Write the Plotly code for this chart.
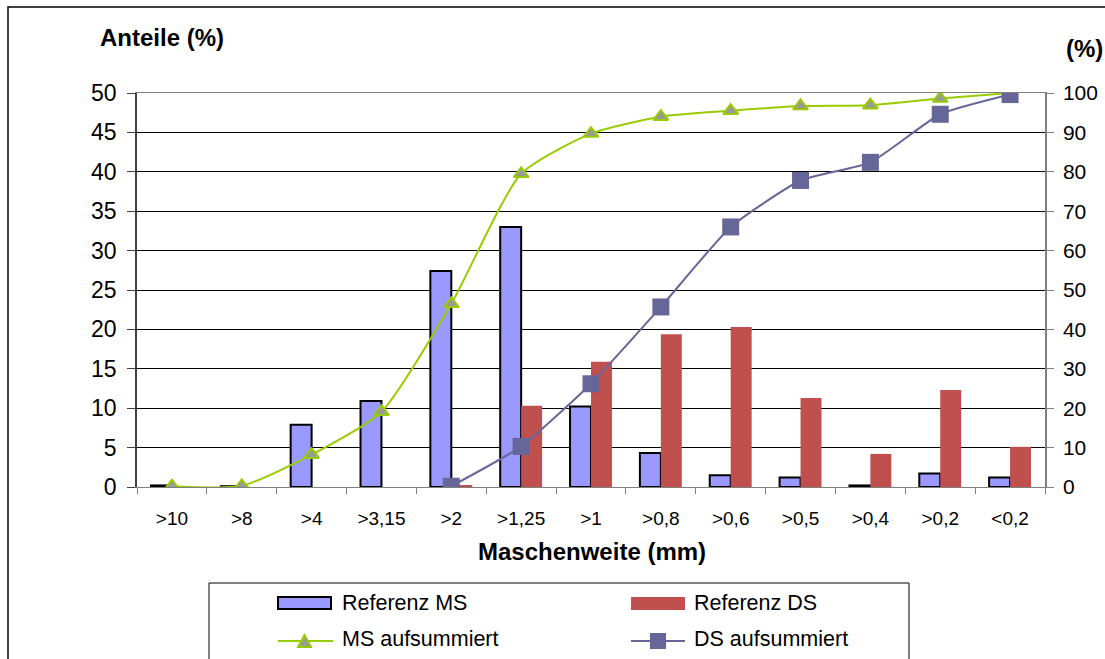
import plotly.graph_objects as go

# Siebanalyse: Anteile je Maschenweite und Summenkurven
categories = [">10", ">8", ">4", ">3,15", ">2", ">1,25", ">1", ">0,8",
              ">0,6", ">0,5", ">0,4", ">0,2", "<0,2"]
ms_share = [0.2, 0.1, 7.9, 10.9, 27.4, 33.0, 10.2, 4.3, 1.5, 1.2, 0.2, 1.7, 1.2]
ds_share = [0, 0, 0, 0, 0.2, 10.3, 15.9, 19.4, 20.3, 11.3, 4.2, 12.3, 5.1]
ms_cum = [0.2, 0.3, 8.2, 19.1, 46.5, 79.5, 89.7, 94.0, 95.5, 96.7, 96.9, 98.6, 100.0]
ds_cum = [None, None, None, None, 0.2, 10.3, 26.2, 45.7, 66.0, 77.8, 82.4, 94.6, 99.6]

left_ticks = list(range(0, 51, 5))
right_ticks = list(range(0, 101, 10))

W, H = 1105, 659
L, R, T, B = 137, 60, 93, 172
PW, PH = W - L - R, H - T - B

FONT = "Liberation Sans, Arial, sans-serif"
MS_BLUE = "#9999FF"
DS_RED = "#C0504D"
MS_GREEN = "#99CC00"
DS_PURPLE = "#666699"


def fx(x):
    return (x - L) / PW


def fy(y):
    return (H - B - y) / PH


fig = go.Figure()
fig.add_trace(go.Bar(x=categories, y=ms_share, name="Referenz MS",
                     marker=dict(color=MS_BLUE, line=dict(color="black", width=2))))
fig.add_trace(go.Bar(x=categories, y=ds_share, name="Referenz DS",
                     marker=dict(color=DS_RED, line=dict(width=0))))
fig.add_trace(go.Scatter(x=categories, y=ms_cum, name="MS aufsummiert", yaxis="y2",
                         mode="lines+markers",
                         line=dict(color=MS_GREEN, width=2, shape="spline", smoothing=0.6),
                         marker=dict(symbol="triangle-up", size=13, color="#999999",
                                     line=dict(color=MS_GREEN, width=2))))
fig.add_trace(go.Scatter(x=categories, y=ds_cum, name="DS aufsummiert", yaxis="y2",
                         mode="lines+markers", connectgaps=False,
                         line=dict(color=DS_PURPLE, width=2, shape="spline", smoothing=0.5),
                         marker=dict(symbol="square", size=17, color=DS_PURPLE)))

shapes = [
    # chart frame
    dict(type="rect", xref="paper", yref="paper", x0=fx(8), y0=fy(7), x1=fx(1200), y1=fy(700),
         line=dict(color="black", width=1.5), layer="below"),
    # legend frame
    dict(type="rect", xref="paper", yref="paper", x0=fx(209), y0=fy(583), x1=fx(909), y1=fy(700),
         line=dict(color="black", width=1), fillcolor="white", layer="below"),
    # legend: Referenz MS
    dict(type="rect", xref="paper", yref="paper", x0=fx(278), y0=fy(597), x1=fx(331), y1=fy(609),
         line=dict(color="black", width=2), fillcolor=MS_BLUE),
    # legend: Referenz DS
    dict(type="rect", xref="paper", yref="paper", x0=fx(631), y0=fy(597), x1=fx(685), y1=fy(610),
         line=dict(width=0), fillcolor=DS_RED),
    # legend: MS aufsummiert
    dict(type="line", xref="paper", yref="paper", x0=fx(278), y0=fy(641), x1=fx(333), y1=fy(641),
         line=dict(color=MS_GREEN, width=2)),
    dict(type="path", xref="paper", yref="paper",
         path="M {} {} L {} {} L {} {} Z".format(fx(298), fy(647), fx(311), fy(647), fx(304.5), fy(635)),
         line=dict(color=MS_GREEN, width=2), fillcolor="#999999"),
    # legend: DS aufsummiert
    dict(type="line", xref="paper", yref="paper", x0=fx(631), y0=fy(641), x1=fx(685), y1=fy(641),
         line=dict(color=DS_PURPLE, width=2)),
    dict(type="rect", xref="paper", yref="paper", x0=fx(650), y0=fy(633), x1=fx(666), y1=fy(649),
         line=dict(width=0), fillcolor=DS_PURPLE),
]

annotations = [
    dict(text="<b>Anteile (%)</b>", x=fx(162), y=fy(37), font=dict(size=24)),
    dict(text="<b>(%)</b>", x=fx(1084), y=fy(48), font=dict(size=24)),
    dict(text="<b>Maschenweite (mm)</b>", x=fx(592), y=fy(551), font=dict(size=24)),
    dict(text="Referenz MS", x=fx(340), y=fy(603), xanchor="left", font=dict(size=21.5)),
    dict(text="Referenz DS", x=fx(692), y=fy(603), xanchor="left", font=dict(size=21.5)),
    dict(text="MS aufsummiert", x=fx(340), y=fy(639), xanchor="left", font=dict(size=21.5)),
    dict(text="DS aufsummiert", x=fx(692), y=fy(639), xanchor="left", font=dict(size=21.5)),
]
for a in annotations:
    a.update(xref="paper", yref="paper", showarrow=False, yanchor="middle")
    a.setdefault("xanchor", "center")
    a["font"].update(family=FONT, color="black")

fig.update_layout(
    width=W, height=H,
    margin=dict(l=L, r=R, t=T, b=B, autoexpand=False),
    paper_bgcolor="white", plot_bgcolor="white",
    font=dict(family=FONT, color="black"),
    barmode="group", bargap=0.4, bargroupgap=0,
    showlegend=False,
    shapes=shapes, annotations=annotations,
    xaxis=dict(type="category", range=[-0.5, len(categories) - 0.5],
               tickson="boundaries", ticks="outside", ticklen=6,
               tickcolor="#808080", showline=True, linecolor="#808080", linewidth=1,
               mirror=True, showgrid=False, tickfont=dict(size=19), ticklabelstandoff=14),
    yaxis=dict(range=[0, 50], tickvals=left_ticks, ticks="outside", ticklen=8,
               tickcolor="#404040", showline=True, linecolor="#404040", linewidth=1.5,
               showgrid=True, gridcolor="black", gridwidth=1, zeroline=False,
               tickfont=dict(size=23), ticklabelstandoff=6),
    yaxis2=dict(range=[0, 100], tickvals=right_ticks, overlaying="y", side="right",
                ticks="outside", ticklen=7, tickcolor="#808080", showline=True,
                linecolor="#808080", linewidth=1.5, showgrid=False, zeroline=False,
                tickfont=dict(size=21), ticklabelstandoff=5),
)

fig.write_html("out.html")
